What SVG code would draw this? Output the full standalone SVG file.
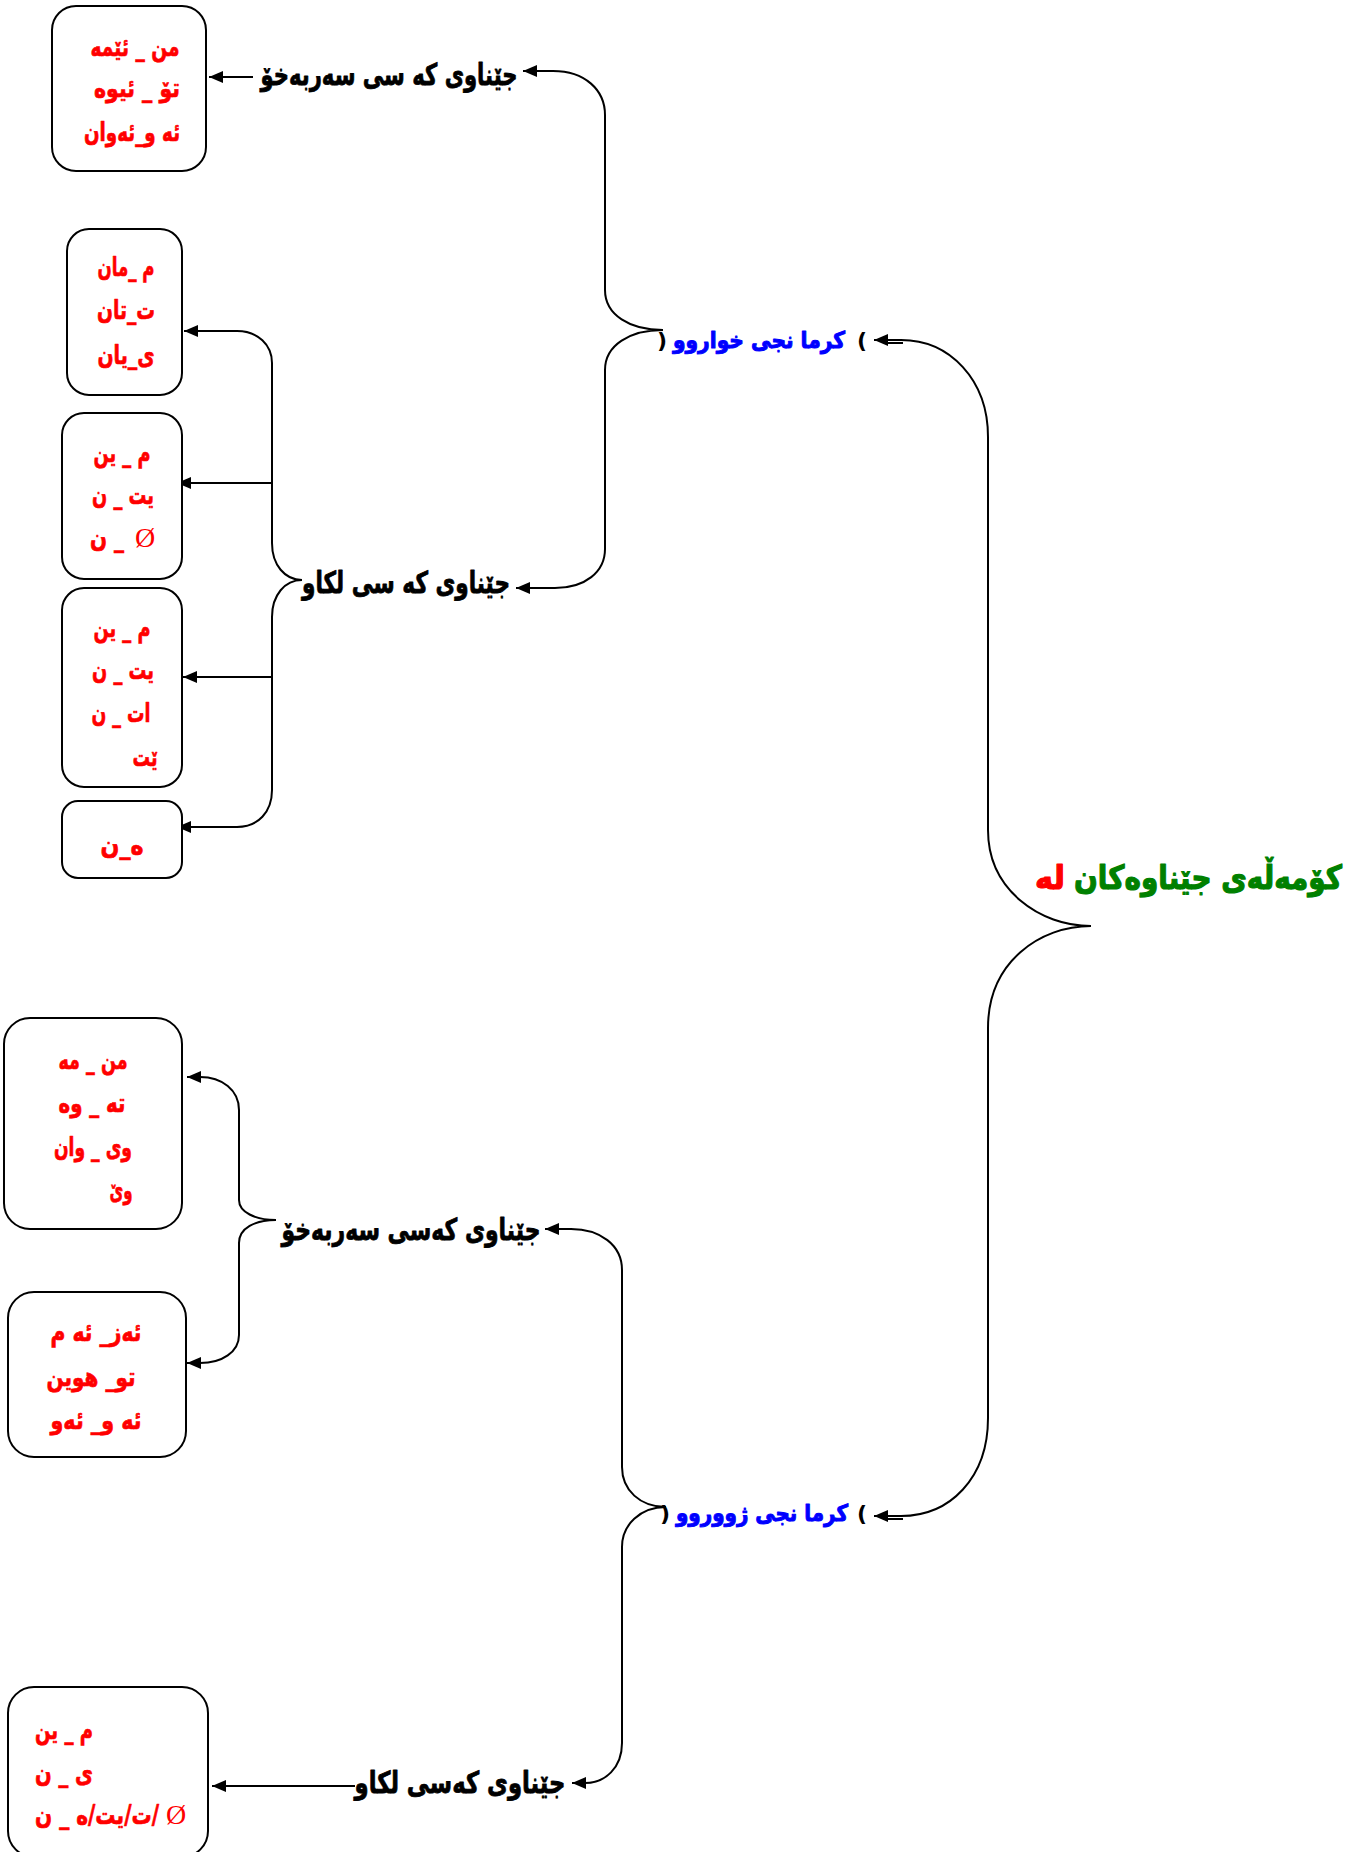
<svg xmlns="http://www.w3.org/2000/svg" width="1362" height="1852" viewBox="0 0 1362 1852">
<style>
  .box { fill: #ffffff; stroke: #000000; stroke-width: 2; }
  .con { fill: none; stroke: #000000; stroke-width: 2; }
  .red { fill: #ff0000; stroke: #ff0000; stroke-width: 0.7; stroke-linejoin: round; font-family: "DejaVu Sans", sans-serif; font-weight: bold; font-size: 26px; }
  .lbl { fill: #000000; stroke: #000000; stroke-width: 0.8; stroke-linejoin: round; font-family: "DejaVu Sans", sans-serif; font-weight: bold; font-size: 30px; }
  .blue { fill: #0000ff; stroke: #0000ff; stroke-width: 1; stroke-linejoin: round; font-family: "DejaVu Sans", sans-serif; font-weight: bold; font-size: 23px; }
  .par { fill: #000000; font-family: "DejaVu Sans", sans-serif; font-weight: bold; font-size: 22px; }
  .title { fill: #008000; stroke: #008000; stroke-width: 1.2; stroke-linejoin: round; font-family: "DejaVu Sans", sans-serif; font-weight: bold; font-size: 33px; }
  .title-red { fill: #ff0000; stroke: #ff0000; stroke-width: 1.2; stroke-linejoin: round; font-family: "DejaVu Sans", sans-serif; font-weight: bold; font-size: 33px; }
  .nul { fill: #ff0000; font-family: "Liberation Serif", serif; font-weight: normal; font-size: 28px; }
</style>
<defs>
  <marker id="arr" viewBox="0 0 14 12" refX="14" refY="6" markerWidth="14" markerHeight="12" markerUnits="userSpaceOnUse" orient="auto-start-reverse">
    <path d="M0,0 L14,6 L0,12 z" fill="#000000"/>
  </marker>
</defs>
<rect width="1362" height="1852" fill="#ffffff"/>

<g id="connectors">
  <path class="con" d="M874,340 L901,340 C950,340 988,380 988,437 L988,830 C988,890 1040,926 1091,926 C1040,926 988,962 988,1028 L988,1418 C988,1478 950,1516 901,1516 L874,1516" marker-start="url(#arr)" marker-end="url(#arr)"/>
  <path class="con" d="M887,343 L903,343 M887,1519 L903,1519"/>
  <path class="con" d="M523,71 L553,71 C585,71 605,90 605,115 L605,290 C605,315 630,330 663,330 C630,330 605,345 605,370 L605,549 C605,572 585,588 555,588 L516,588" marker-start="url(#arr)" marker-end="url(#arr)"/>
  <path class="con" d="M253,77 L209,77" marker-end="url(#arr)"/>
  <path class="con" d="M184,331 L237,331 C258,331 272,345 272,363 L272,543 C272,565 285,580 302,580 C285,580 272,595 272,617 L272,790 C272,812 258,827 237,827 L177,827" marker-start="url(#arr)" marker-end="url(#arr)"/>
  <path class="con" d="M272,483 L177,483" marker-end="url(#arr)"/>
  <path class="con" d="M272,677 L183,677" marker-end="url(#arr)"/>
  <path class="con" d="M187,1077 L200,1077 C222,1077 239,1090 239,1110 L239,1200 C239,1212 255,1220 276,1220 C255,1220 239,1228 239,1243 L239,1335 C239,1352 222,1363 200,1363 L187,1363" marker-start="url(#arr)" marker-end="url(#arr)"/>
  <path class="con" d="M545,1229 L571,1229 C600,1229 622,1245 622,1270 L622,1467 C622,1490 640,1507 666,1507 C640,1507 622,1525 622,1547 L622,1743 C622,1768 605,1783 585,1783 L572,1783" marker-start="url(#arr)" marker-end="url(#arr)"/>
  <path class="con" d="M355,1786 L212,1786" marker-end="url(#arr)"/>
</g>

<g id="title">
  <text class="title" x="1208" y="889" text-anchor="middle" textLength="268" lengthAdjust="spacingAndGlyphs">کۆمەڵەی جێناوەکان</text>
  <text class="title-red" x="1050" y="889" text-anchor="middle" textLength="30" lengthAdjust="spacingAndGlyphs">لە</text>
</g>

<g id="kurmanji-khwarw">
  <text class="par" x="662" y="348" text-anchor="middle">)</text>
  <text class="blue" x="759" y="348" text-anchor="middle" textLength="172" lengthAdjust="spacingAndGlyphs">کرما نجی خواروو</text>
  <text class="par" x="862" y="348" text-anchor="middle">(</text>
</g>

<g id="kurmanji-zhwrw">
  <text class="par" x="665" y="1521" text-anchor="middle">)</text>
  <text class="blue" x="762" y="1521" text-anchor="middle" textLength="172" lengthAdjust="spacingAndGlyphs">کرما نجی ژووروو</text>
  <text class="par" x="862" y="1521" text-anchor="middle">(</text>
</g>

<g id="label-serbexo-1">
  <text class="lbl" x="389" y="85" text-anchor="middle" textLength="257" lengthAdjust="spacingAndGlyphs">جێناوی که سی سەربەخۆ</text>
</g>
<g id="label-lkaw-1">
  <text class="lbl" x="406" y="593" text-anchor="middle" textLength="208" lengthAdjust="spacingAndGlyphs">جێناوی که سی لکاو</text>
</g>
<g id="label-serbexo-2">
  <text class="lbl" x="411" y="1240" text-anchor="middle" textLength="259" lengthAdjust="spacingAndGlyphs">جێناوی  کەسی سەربەخۆ</text>
</g>
<g id="label-lkaw-2">
  <text class="lbl" x="460" y="1793" text-anchor="middle" textLength="211" lengthAdjust="spacingAndGlyphs">جێناوی  کەسی لکاو</text>
</g>

<g id="box-a">
  <rect class="box" x="52" y="6" width="154" height="165" rx="24"/>
  <text class="red" x="135" y="56" text-anchor="middle" textLength="89" lengthAdjust="spacingAndGlyphs">من _ ئێمە</text>
  <text class="red" x="137" y="97" text-anchor="middle" textLength="86" lengthAdjust="spacingAndGlyphs">تۆ _ ئیوه</text>
  <text class="red" x="132" y="141" text-anchor="middle" textLength="96" lengthAdjust="spacingAndGlyphs">ئه و_ئەوان</text>
</g>

<g id="box-b">
  <rect class="box" x="67" y="229" width="115" height="166" rx="22"/>
  <text class="red" x="126" y="276" text-anchor="middle" textLength="57" lengthAdjust="spacingAndGlyphs">م _مان</text>
  <text class="red" x="126" y="319" text-anchor="middle" textLength="58" lengthAdjust="spacingAndGlyphs">ت_تان</text>
  <text class="red" x="126" y="364" text-anchor="middle" textLength="57" lengthAdjust="spacingAndGlyphs">ی_یان</text>
</g>

<g id="box-c">
  <rect class="box" x="62" y="413" width="120" height="166" rx="22"/>
  <text class="red" x="122" y="462" text-anchor="middle" textLength="57" lengthAdjust="spacingAndGlyphs">م _ ین</text>
  <text class="red" x="123" y="504" text-anchor="middle" textLength="62" lengthAdjust="spacingAndGlyphs">یت _ ن</text>
  <text class="nul" x="145" y="547" text-anchor="middle">Ø</text>
  <text class="red" x="107" y="547" text-anchor="middle" textLength="34" lengthAdjust="spacingAndGlyphs">&#x200F;_ ن</text>
</g>

<g id="box-d">
  <rect class="box" x="62" y="588" width="120" height="199" rx="22"/>
  <text class="red" x="122" y="637" text-anchor="middle" textLength="57" lengthAdjust="spacingAndGlyphs">م _ ین</text>
  <text class="red" x="123" y="679" text-anchor="middle" textLength="62" lengthAdjust="spacingAndGlyphs">یت _ ن</text>
  <text class="red" x="121" y="722" text-anchor="middle" textLength="59" lengthAdjust="spacingAndGlyphs">ات _ ن</text>
  <text class="red" x="145" y="766" text-anchor="middle" textLength="25" lengthAdjust="spacingAndGlyphs">ێت</text>
</g>

<g id="box-e">
  <rect class="box" x="62" y="801" width="120" height="77" rx="16"/>
  <text class="red" x="122" y="854" text-anchor="middle" textLength="43" lengthAdjust="spacingAndGlyphs">ە_ن</text>
</g>

<g id="box-f">
  <rect class="box" x="4" y="1018" width="178" height="211" rx="26"/>
  <text class="red" x="93" y="1069" text-anchor="middle" textLength="69" lengthAdjust="spacingAndGlyphs">من _ مه</text>
  <text class="red" x="92" y="1112" text-anchor="middle" textLength="67" lengthAdjust="spacingAndGlyphs">ته _ وه</text>
  <text class="red" x="93" y="1156" text-anchor="middle" textLength="78" lengthAdjust="spacingAndGlyphs">وی _ وان</text>
  <text class="red" x="121" y="1199" text-anchor="middle" textLength="23" lengthAdjust="spacingAndGlyphs">وێ</text>
</g>

<g id="box-g">
  <rect class="box" x="8" y="1292" width="178" height="165" rx="26"/>
  <text class="red" x="96" y="1341" text-anchor="middle" textLength="91" lengthAdjust="spacingAndGlyphs">ئەز_ ئه م</text>
  <text class="red" x="91" y="1386" text-anchor="middle" textLength="89" lengthAdjust="spacingAndGlyphs">تو_ هوین</text>
  <text class="red" x="96" y="1429" text-anchor="middle" textLength="91" lengthAdjust="spacingAndGlyphs">ئه و_ ئەو</text>
</g>

<g id="box-h">
  <rect class="box" x="8" y="1687" width="200" height="170" rx="26"/>
  <text class="red" x="64" y="1739" text-anchor="middle" textLength="58" lengthAdjust="spacingAndGlyphs">م _ ین</text>
  <text class="red" x="64" y="1782" text-anchor="middle" textLength="58" lengthAdjust="spacingAndGlyphs">ی _ ن</text>
  <text class="nul" x="176" y="1824" text-anchor="middle">Ø</text>
  <text class="red" x="97" y="1824" text-anchor="middle" font-size="19" stroke-width="1" textLength="124" lengthAdjust="spacingAndGlyphs">&#x200F;/ت/یت/ه _ ن</text>
</g>
</svg>
